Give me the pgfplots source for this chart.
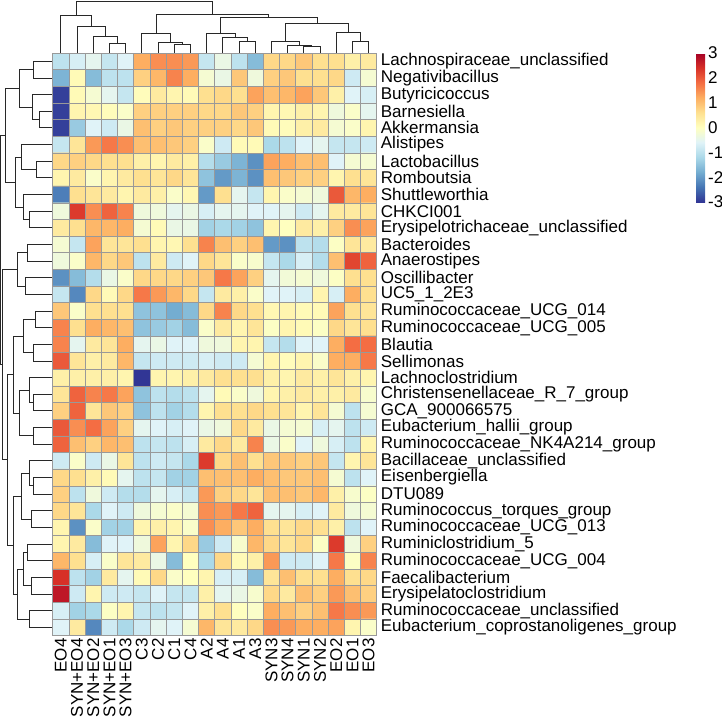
\documentclass[border=0pt]{standalone}
\usepackage{pgfplots}
\pgfplotsset{compat=1.18}
\usepackage{fontspec}
\setmainfont{Liberation Sans}
\definecolor{gridgray}{RGB}{153,153,153}
\definecolor{dendro}{RGB}{40,40,40}
\newcommand{\lbl}{\fontsize{17pt}{20pt}\selectfont}
\newcommand{\us}{\textunderscore}
\begin{document}
\lbl
\begin{tikzpicture}[x=1pt,y=1pt]
\useasboundingbox (0,0) rectangle (722,-721);
% ---------------- heatmap ----------------
\begin{axis}[
  at={(52.7pt,-635.6pt)}, anchor=south west,
  scale only axis, width=324pt, height=582.6pt,
  xmin=-0.5, xmax=19.5, ymin=-0.5, ymax=34.5, y dir=reverse,
  colormap={rdylbu}{rgb255=(49,54,149) rgb255=(69,117,180) rgb255=(116,173,209) rgb255=(171,217,233) rgb255=(224,243,248) rgb255=(255,255,191) rgb255=(254,224,144) rgb255=(253,174,97) rgb255=(244,109,67) rgb255=(215,48,39) rgb255=(165,0,38)},
  point meta min=-3, point meta max=3,
  xtick={0,...,19}, ytick={0,...,34},
  xticklabels={EO4,SYN+EO4,SYN+EO2,SYN+EO1,SYN+EO3,C3,C2,C1,C4,A2,A4,A1,A3,SYN3,SYN4,SYN1,SYN2,EO2,EO1,EO3},
  yticklabels={Lachnospiraceae\us unclassified,Negativibacillus,Butyricicoccus,Barnesiella,Akkermansia,Alistipes,Lactobacillus,Romboutsia,Shuttleworthia,CHKCI001,Erysipelotrichaceae\us unclassified,Bacteroides,Anaerostipes,Oscillibacter,UC5\us 1\us 2E3,Ruminococcaceae\us UCG\us 014,Ruminococcaceae\us UCG\us 005,Blautia,Sellimonas,Lachnoclostridium,Christensenellaceae\us R\us 7\us group,GCA\us 900066575,Eubacterium\us hallii\us group,Ruminococcaceae\us NK4A214\us group,Bacillaceae\us unclassified,Eisenbergiella,DTU089,Ruminococcus\us torques\us group,Ruminococcaceae\us UCG\us 013,Ruminiclostridium\us 5,Ruminococcaceae\us UCG\us 004,Faecalibacterium,Erysipelatoclostridium,Ruminococcaceae\us unclassified,Eubacterium\us coprostanoligenes\us group},
  yticklabel pos=right,
  major tick length=0pt, minor tick length=0pt,
  tick label style={font=\lbl},
  xticklabel style={rotate=90, anchor=east, inner xsep=2.5pt, inner ysep=0pt},
  yticklabel style={anchor=west, inner xsep=4pt, inner ysep=0pt},
  minor xtick={0.5,1.5,...,18.5}, minor ytick={0.5,1.5,...,33.5},
  xminorgrids, yminorgrids, minor grid style={gridgray, line width=0.6pt},
  axis line style={gridgray, line width=0.6pt},
  axis on top,
  colorbar,
  colorbar style={at={(1.9855,1)}, anchor=north west, scale only axis, width=9pt, height=149pt,
    ytick={-3,-2,-1,0,1,2,3}, yticklabels={{-3},{-2},{-1},{0},{1},{2},{3}},
    yticklabel style={font=\lbl, inner xsep=3pt},
    axis line style={draw=none}, major tick length=0pt},
]
\addplot[matrix plot*, mesh/cols=20, point meta=explicit]
 table[header=false, row sep=\\, x index=0, y index=1, meta index=2] {
0 0 -1.0\\ 1 0 -0.7\\ 2 0 -0.5\\ 3 0 -0.9\\ 4 0 -0.6\\ 5 0 1.2\\ 6 0 1.5\\ 7 0 1.5\\ 8 0 1.4\\ 9 0 -0.9\\ 10 0 -0.4\\ 11 0 -1.0\\ 12 0 -1.6\\ 13 0 0.7\\ 14 0 0.7\\ 15 0 0.9\\ 16 0 0.6\\ 17 0 0.6\\ 18 0 0.3\\ 19 0 0.4\\
0 1 -1.7\\ 1 1 0.1\\ 2 1 -1.6\\ 3 1 -1.0\\ 4 1 -1.0\\ 5 1 0.8\\ 6 1 1.1\\ 7 1 1.6\\ 8 1 1.2\\ 9 1 -0.2\\ 10 1 -0.4\\ 11 1 0.9\\ 12 1 -0.3\\ 13 1 0.8\\ 14 1 0.9\\ 15 1 0.6\\ 16 1 0.6\\ 17 1 0.7\\ 18 1 -0.8\\ 19 1 -0.2\\
0 2 -2.9\\ 1 2 0.1\\ 2 2 -0.2\\ 3 2 -0.5\\ 4 2 -0.9\\ 5 2 0.05\\ 6 2 0.4\\ 7 2 0.2\\ 8 2 0.1\\ 9 2 0.6\\ 10 2 0.7\\ 11 2 0.6\\ 12 2 1.3\\ 13 2 1.0\\ 14 2 1.1\\ 15 2 1.3\\ 16 2 0.9\\ 17 2 0.3\\ 18 2 -0.6\\ 19 2 -0.7\\
0 3 -2.9\\ 1 3 0.2\\ 2 3 0.15\\ 3 3 0.05\\ 4 3 -0.1\\ 5 3 0.8\\ 6 3 0.8\\ 7 3 0.8\\ 8 3 0.8\\ 9 3 0.7\\ 10 3 0.7\\ 11 3 0.9\\ 12 3 0.8\\ 13 3 0.2\\ 14 3 0.15\\ 15 3 0.3\\ 16 3 0.2\\ 17 3 -0.3\\ 18 3 -0.1\\ 19 3 -0.5\\
0 4 -2.9\\ 1 4 -1.4\\ 2 4 -0.6\\ 3 4 -0.8\\ 4 4 -0.4\\ 5 4 1.0\\ 6 4 0.8\\ 7 4 0.9\\ 8 4 0.8\\ 9 4 0.8\\ 10 4 0.8\\ 11 4 0.7\\ 12 4 0.9\\ 13 4 0.1\\ 14 4 0.05\\ 15 4 0.3\\ 16 4 0.4\\ 17 4 -0.2\\ 18 4 -0.1\\ 19 4 0.2\\
0 5 -0.9\\ 1 5 0.5\\ 2 5 1.4\\ 3 5 1.7\\ 4 5 1.5\\ 5 5 1.0\\ 6 5 1.0\\ 7 5 0.9\\ 8 5 0.8\\ 9 5 -0.1\\ 10 5 -0.8\\ 11 5 0.1\\ 12 5 0.1\\ 13 5 -1.2\\ 14 5 -1.0\\ 15 5 -0.6\\ 16 5 -0.5\\ 17 5 -0.9\\ 18 5 -0.9\\ 19 5 -0.8\\
0 6 0.7\\ 1 6 0.8\\ 2 6 0.7\\ 3 6 0.6\\ 4 6 0.6\\ 5 6 0.3\\ 6 6 0.2\\ 7 6 0.4\\ 8 6 0.3\\ 9 6 -1.1\\ 10 6 -1.4\\ 11 6 -1.7\\ 12 6 -2.1\\ 13 6 1.3\\ 14 6 1.2\\ 15 6 1.0\\ 16 6 1.0\\ 17 6 -0.6\\ 18 6 -0.2\\ 19 6 -0.2\\
0 7 0.2\\ 1 7 0.4\\ 2 7 -0.1\\ 3 7 0.2\\ 4 7 0.4\\ 5 7 0.6\\ 6 7 0.5\\ 7 7 0.7\\ 8 7 0.5\\ 9 7 -1.5\\ 10 7 -2.0\\ 11 7 -1.7\\ 12 7 -2.1\\ 13 7 1.0\\ 14 7 0.9\\ 15 7 0.8\\ 16 7 0.8\\ 17 7 0.2\\ 18 7 0.6\\ 19 7 0.5\\
0 8 -2.3\\ 1 8 0.6\\ 2 8 0.5\\ 3 8 0.4\\ 4 8 0.2\\ 5 8 0.4\\ 6 8 0.3\\ 7 8 -0.1\\ 8 8 0.15\\ 9 8 -2.0\\ 10 8 0.6\\ 11 8 -0.5\\ 12 8 -0.9\\ 13 8 0.2\\ 14 8 -0.1\\ 15 8 -0.2\\ 16 8 -0.3\\ 17 8 2.0\\ 18 8 1.1\\ 19 8 1.2\\
0 9 -0.3\\ 1 9 2.3\\ 2 9 1.5\\ 3 9 1.9\\ 4 9 1.6\\ 5 9 -0.3\\ 6 9 -0.3\\ 7 9 -0.5\\ 8 9 -0.4\\ 9 9 -0.7\\ 10 9 -0.5\\ 11 9 -0.5\\ 12 9 -0.6\\ 13 9 -0.6\\ 14 9 -0.5\\ 15 9 -0.8\\ 16 9 -0.5\\ 17 9 0.4\\ 18 9 0.4\\ 19 9 0.5\\
0 10 0.4\\ 1 10 0.6\\ 2 10 1.1\\ 3 10 1.1\\ 4 10 1.2\\ 5 10 -0.2\\ 6 10 0.1\\ 7 10 -0.4\\ 8 10 -0.4\\ 9 10 -1.3\\ 10 10 -1.2\\ 11 10 -1.3\\ 12 10 -1.5\\ 13 10 0.2\\ 14 10 0.0\\ 15 10 0.4\\ 16 10 0.3\\ 17 10 0.8\\ 18 10 1.5\\ 19 10 1.3\\
0 11 -0.2\\ 1 11 -0.9\\ 2 11 1.3\\ 3 11 0.5\\ 4 11 0.5\\ 5 11 0.6\\ 6 11 0.2\\ 7 11 0.15\\ 8 11 0.6\\ 9 11 1.6\\ 10 11 1.0\\ 11 11 0.8\\ 12 11 1.0\\ 13 11 -2.0\\ 14 11 -2.1\\ 15 11 -1.0\\ 16 11 -1.1\\ 17 11 -0.05\\ 18 11 0.5\\ 19 11 0.4\\
0 12 -0.3\\ 1 12 -0.1\\ 2 12 1.1\\ 3 12 0.7\\ 4 12 0.9\\ 5 12 -1.0\\ 6 12 0.4\\ 7 12 -0.8\\ 8 12 -0.6\\ 9 12 0.7\\ 10 12 0.5\\ 11 12 -0.1\\ 12 12 -0.15\\ 13 12 -0.9\\ 14 12 -1.2\\ 15 12 -0.7\\ 16 12 -1.1\\ 17 12 1.0\\ 18 12 2.2\\ 19 12 1.9\\
0 13 -2.1\\ 1 13 -1.6\\ 2 13 -1.1\\ 3 13 -0.4\\ 4 13 -0.1\\ 5 13 0.7\\ 6 13 0.7\\ 7 13 0.7\\ 8 13 0.8\\ 9 13 0.9\\ 10 13 1.7\\ 11 13 1.3\\ 12 13 0.8\\ 13 13 -0.5\\ 14 13 -0.25\\ 15 13 -0.2\\ 16 13 -0.3\\ 17 13 -0.05\\ 18 13 0.6\\ 19 13 0.6\\
0 14 -0.9\\ 1 14 -2.2\\ 2 14 0.7\\ 3 14 0.1\\ 4 14 0.7\\ 5 14 1.7\\ 6 14 1.4\\ 7 14 1.1\\ 8 14 0.7\\ 9 14 -0.9\\ 10 14 0.4\\ 11 14 0.3\\ 12 14 -0.1\\ 13 14 -0.6\\ 14 14 -0.6\\ 15 14 -0.7\\ 16 14 0.2\\ 17 14 -0.7\\ 18 14 1.2\\ 19 14 0.6\\
0 15 0.9\\ 1 15 -0.1\\ 2 15 0.6\\ 3 15 0.6\\ 4 15 0.6\\ 5 15 -1.5\\ 6 15 -1.5\\ 7 15 -1.8\\ 8 15 -1.6\\ 9 15 0.7\\ 10 15 1.6\\ 11 15 0.7\\ 12 15 0.6\\ 13 15 0.15\\ 14 15 0.2\\ 15 15 0.1\\ 16 15 0.1\\ 17 15 1.3\\ 18 15 0.6\\ 19 15 0.5\\
0 16 1.6\\ 1 16 0.6\\ 2 16 1.2\\ 3 16 1.1\\ 4 16 1.0\\ 5 16 -1.5\\ 6 16 -1.4\\ 7 16 -1.3\\ 8 16 -1.6\\ 9 16 -0.1\\ 10 16 0.4\\ 11 16 0.2\\ 12 16 0.5\\ 13 16 -0.05\\ 14 16 0.2\\ 15 16 0.1\\ 16 16 -0.05\\ 17 16 0.7\\ 18 16 0.5\\ 19 16 0.6\\
0 17 1.6\\ 1 17 -0.5\\ 2 17 0.4\\ 3 17 0.5\\ 4 17 1.2\\ 5 17 -0.5\\ 6 17 -0.4\\ 7 17 -0.6\\ 8 17 -0.6\\ 9 17 -0.3\\ 10 17 -0.3\\ 11 17 0.2\\ 12 17 0.2\\ 13 17 -0.9\\ 14 17 -1.1\\ 15 17 -0.6\\ 16 17 -0.6\\ 17 17 1.2\\ 18 17 1.8\\ 19 17 1.8\\
0 18 2.0\\ 1 18 0.5\\ 2 18 0.3\\ 3 18 0.4\\ 4 18 1.1\\ 5 18 -0.9\\ 6 18 -0.8\\ 7 18 -0.8\\ 8 18 -0.8\\ 9 18 -0.7\\ 10 18 -0.8\\ 11 18 -0.8\\ 12 18 -0.2\\ 13 18 0.2\\ 14 18 0.05\\ 15 18 0.2\\ 16 18 -0.1\\ 17 18 1.2\\ 18 18 1.2\\ 19 18 1.7\\
0 19 0.3\\ 1 19 0.3\\ 2 19 0.3\\ 3 19 0.3\\ 4 19 0.2\\ 5 19 -3.0\\ 6 19 0.2\\ 7 19 0.2\\ 8 19 0.3\\ 9 19 0.4\\ 10 19 0.6\\ 11 19 0.6\\ 12 19 0.6\\ 13 19 0.3\\ 14 19 0.2\\ 15 19 0.4\\ 16 19 0.3\\ 17 19 0.5\\ 18 19 0.3\\ 19 19 0.2\\
0 20 0.5\\ 1 20 1.9\\ 2 20 1.6\\ 3 20 1.7\\ 4 20 1.3\\ 5 20 -1.5\\ 6 20 -1.0\\ 7 20 -1.1\\ 8 20 -1.0\\ 9 20 -0.5\\ 10 20 0.1\\ 11 20 -0.1\\ 12 20 -0.3\\ 13 20 0.2\\ 14 20 0.3\\ 15 20 0.4\\ 16 20 0.3\\ 17 20 0.3\\ 18 20 0.4\\ 19 20 -0.15\\
0 21 0.8\\ 1 21 1.9\\ 2 21 0.5\\ 3 21 0.9\\ 4 21 0.8\\ 5 21 -1.5\\ 6 21 -1.0\\ 7 21 -1.3\\ 8 21 -1.1\\ 9 21 0.2\\ 10 21 0.6\\ 11 21 0.6\\ 12 21 0.7\\ 13 21 0.6\\ 14 21 0.5\\ 15 21 0.2\\ 16 21 0.5\\ 17 21 -0.2\\ 18 21 -1.0\\ 19 21 -0.2\\
0 22 2.0\\ 1 22 1.5\\ 2 22 1.8\\ 3 22 1.3\\ 4 22 0.8\\ 5 22 -0.5\\ 6 22 -0.6\\ 7 22 -0.7\\ 8 22 -0.6\\ 9 22 -0.4\\ 10 22 -0.3\\ 11 22 0.7\\ 12 22 0.4\\ 13 22 -0.4\\ 14 22 -0.2\\ 15 22 -0.2\\ 16 22 -0.7\\ 17 22 -0.5\\ 18 22 -1.0\\ 19 22 -0.8\\
0 23 1.9\\ 1 23 1.0\\ 2 23 0.8\\ 3 23 1.1\\ 4 23 1.0\\ 5 23 -1.0\\ 6 23 -0.9\\ 7 23 -1.0\\ 8 23 -0.7\\ 9 23 0.4\\ 10 23 0.7\\ 11 23 0.4\\ 12 23 1.6\\ 13 23 -0.4\\ 14 23 -0.1\\ 15 23 -0.6\\ 16 23 -0.3\\ 17 23 -0.7\\ 18 23 -1.0\\ 19 23 0.2\\
0 24 -0.8\\ 1 24 -0.1\\ 2 24 -0.8\\ 3 24 -0.4\\ 4 24 0.5\\ 5 24 -1.0\\ 6 24 -0.8\\ 7 24 -0.9\\ 8 24 -1.2\\ 9 24 2.3\\ 10 24 0.7\\ 11 24 1.0\\ 12 24 0.6\\ 13 24 0.9\\ 14 24 0.9\\ 15 24 0.8\\ 16 24 0.9\\ 17 24 -0.9\\ 18 24 0.2\\ 19 24 0.5\\
0 25 0.7\\ 1 25 0.6\\ 2 25 0.3\\ 3 25 0.1\\ 4 25 -0.5\\ 5 25 -1.0\\ 6 25 -0.9\\ 7 25 -1.3\\ 8 25 -1.3\\ 9 25 1.0\\ 10 25 1.0\\ 11 25 1.0\\ 12 25 1.2\\ 13 25 1.0\\ 14 25 0.9\\ 15 25 0.9\\ 16 25 1.0\\ 17 25 -0.2\\ 18 25 -1.0\\ 19 25 -0.6\\
0 26 0.8\\ 1 26 -1.0\\ 2 26 -0.3\\ 3 26 -0.8\\ 4 26 -1.1\\ 5 26 -1.1\\ 6 26 -0.5\\ 7 26 -0.7\\ 8 26 -0.9\\ 9 26 1.4\\ 10 26 0.8\\ 11 26 0.7\\ 12 26 0.5\\ 13 26 1.0\\ 14 26 1.0\\ 15 26 0.9\\ 16 26 1.1\\ 17 26 0.3\\ 18 26 -0.15\\ 19 26 -0.05\\
0 27 0.7\\ 1 27 0.5\\ 2 27 -1.2\\ 3 27 -0.6\\ 4 27 -0.8\\ 5 27 -0.3\\ 6 27 -0.2\\ 7 27 -0.1\\ 8 27 -0.2\\ 9 27 1.5\\ 10 27 1.4\\ 11 27 1.7\\ 12 27 1.9\\ 13 27 -0.5\\ 14 27 -0.5\\ 15 27 -0.7\\ 16 27 -0.6\\ 17 27 0.4\\ 18 27 -0.3\\ 19 27 -0.2\\
0 28 0.2\\ 1 28 -2.1\\ 2 28 -0.1\\ 3 28 -1.3\\ 4 28 -1.3\\ 5 28 0.2\\ 6 28 0.3\\ 7 28 0.2\\ 8 28 -0.1\\ 9 28 1.5\\ 10 28 1.2\\ 11 28 0.9\\ 12 28 1.2\\ 13 28 0.6\\ 14 28 0.5\\ 15 28 0.7\\ 16 28 0.6\\ 17 28 0.3\\ 18 28 -1.0\\ 19 28 -0.6\\
0 29 0.2\\ 1 29 0.4\\ 2 29 -1.6\\ 3 29 -0.6\\ 4 29 -0.6\\ 5 29 -0.3\\ 6 29 1.3\\ 7 29 0.2\\ 8 29 0.7\\ 9 29 -1.4\\ 10 29 -0.8\\ 11 29 -0.15\\ 12 29 1.1\\ 13 29 0.7\\ 14 29 0.5\\ 15 29 0.7\\ 16 29 -0.05\\ 17 29 2.3\\ 18 29 -0.3\\ 19 29 0.8\\
0 30 1.1\\ 1 30 0.6\\ 2 30 -0.7\\ 3 30 -0.1\\ 4 30 0.5\\ 5 30 0.4\\ 6 30 -0.4\\ 7 30 -1.6\\ 8 30 0.0\\ 9 30 -1.2\\ 10 30 0.7\\ 11 30 0.1\\ 12 30 0.3\\ 13 30 1.4\\ 14 30 -0.8\\ 15 30 -0.8\\ 16 30 -0.6\\ 17 30 1.7\\ 18 30 -0.05\\ 19 30 1.6\\
0 31 2.4\\ 1 31 -1.0\\ 2 31 -1.3\\ 3 31 0.4\\ 4 31 -0.5\\ 5 31 0.1\\ 6 31 0.7\\ 7 31 -0.1\\ 8 31 0.0\\ 9 31 0.2\\ 10 31 -0.7\\ 11 31 -0.7\\ 12 31 -1.6\\ 13 31 0.5\\ 14 31 1.0\\ 15 31 0.6\\ 16 31 0.6\\ 17 31 1.2\\ 18 31 0.6\\ 19 31 0.7\\
0 32 2.7\\ 1 32 -0.8\\ 2 32 0.2\\ 3 32 -0.8\\ 4 32 -0.8\\ 5 32 -0.9\\ 6 32 -0.6\\ 7 32 -0.9\\ 8 32 -0.9\\ 9 32 0.3\\ 10 32 -0.5\\ 11 32 -0.4\\ 12 32 -0.15\\ 13 32 0.7\\ 14 32 0.4\\ 15 32 1.0\\ 16 32 0.8\\ 17 32 1.4\\ 18 32 1.0\\ 19 32 0.8\\
0 33 -0.7\\ 1 33 -1.3\\ 2 33 -1.2\\ 3 33 -0.05\\ 4 33 0.2\\ 5 33 -0.9\\ 6 33 -1.0\\ 7 33 -0.9\\ 8 33 -0.6\\ 9 33 0.3\\ 10 33 0.6\\ 11 33 0.0\\ 12 33 -0.1\\ 13 33 1.2\\ 14 33 1.0\\ 15 33 0.8\\ 16 33 1.0\\ 17 33 1.7\\ 18 33 1.5\\ 19 33 1.4\\
0 34 -0.6\\ 1 34 0.4\\ 2 34 -2.2\\ 3 34 -0.8\\ 4 34 -1.2\\ 5 34 -0.8\\ 6 34 -0.5\\ 7 34 -0.6\\ 8 34 -0.2\\ 9 34 1.1\\ 10 34 0.5\\ 11 34 0.4\\ 12 34 0.7\\ 13 34 1.5\\ 14 34 1.4\\ 15 34 1.2\\ 16 34 1.2\\ 17 34 1.3\\ 18 34 0.2\\ 19 34 -0.1\\
};
\end{axis}
% ---------------- column dendrogram ----------------
\begin{axis}[at={(52.7pt,-52.7pt)}, anchor=south west, scale only axis,
  width=324pt, height=51.7pt, xmin=-0.5, xmax=19.5, ymin=0, ymax=51.7,
  hide axis, clip=false]
\addplot[dendro, line width=0.9pt, unbounded coords=jump, mark=none] coordinates {
(3,0)(3,9.4)(4,9.4)(4,0) (nan,nan)
(2,0)(2,16.7)(3.5,16.7)(3.5,9.4) (nan,nan)
(1,0)(1,26)(2.75,26)(2.75,16.7) (nan,nan)
(0,0)(0,37.4)(1.875,37.4)(1.875,26) (nan,nan)
(7,0)(7,8.4)(8,8.4)(8,0) (nan,nan)
(6,0)(6,10.7)(7.5,10.7)(7.5,8.4) (nan,nan)
(5,0)(5,19)(6.75,19)(6.75,10.7) (nan,nan)
(11,0)(11,11)(12,11)(12,0) (nan,nan)
(10,0)(10,15.7)(11.5,15.7)(11.5,11) (nan,nan)
(9,0)(9,19.5)(10.75,19.5)(10.75,15.7) (nan,nan)
(15,0)(15,6)(16,6)(16,0) (nan,nan)
(14,0)(14,7)(15.5,7)(15.5,6) (nan,nan)
(13,0)(13,11)(14.75,11)(14.75,7) (nan,nan)
(18,0)(18,11)(19,11)(19,0) (nan,nan)
(17,0)(17,20.7)(18.5,20.7)(18.5,11) (nan,nan)
(13.875,11)(13.875,29)(17.75,29)(17.75,20.7) (nan,nan)
(9.875,19.5)(9.875,35.4)(15.8125,35.4)(15.8125,29) (nan,nan)
(5.875,19)(5.875,38.7)(12.84375,38.7)(12.84375,35.4) (nan,nan)
(0.9375,37.4)(0.9375,51.7)(9.359375,51.7)(9.359375,38.7)
};
\end{axis}
% ---------------- row dendrogram ----------------
\begin{axis}[at={(0.7pt,-635.6pt)}, anchor=south west, scale only axis,
  width=51pt, height=582.6pt, xmin=0, xmax=51, x dir=reverse,
  ymin=-0.5, ymax=34.5, y dir=reverse, hide axis, clip=false]
\addplot[dendro, line width=0.9pt, unbounded coords=jump, mark=none] coordinates {
(0,0)(18.4,0)(18.4,1)(0,1) (nan,nan)
(0,3)(12,3)(12,4)(0,4) (nan,nan)
(0,2)(19.4,2)(19.4,3.5)(12,3.5) (nan,nan)
(18.4,0.5)(32,0.5)(32,2.75)(19.4,2.75) (nan,nan)
(0,6)(15.4,6)(15.4,7)(0,7) (nan,nan)
(0,5)(30,5)(30,6.5)(15.4,6.5) (nan,nan)
(0,9)(22,9)(22,10)(0,10) (nan,nan)
(0,8)(28.7,8)(28.7,9.5)(22,9.5) (nan,nan)
(30,5.75)(36,5.75)(36,8.75)(28.7,8.75) (nan,nan)
(32,1.625)(46,1.625)(46,7.25)(36,7.25) (nan,nan)
(0,11)(24.4,11)(24.4,12)(0,12) (nan,nan)
(0,13)(26,13)(26,14)(0,14) (nan,nan)
(24.4,11.5)(34.4,11.5)(34.4,13.5)(26,13.5) (nan,nan)
(0,15)(16,15)(16,16)(0,16) (nan,nan)
(0,17)(18,17)(18,18)(0,18) (nan,nan)
(16,15.5)(28,15.5)(28,17.5)(18,17.5) (nan,nan)
(0,20)(18,20)(18,21)(0,21) (nan,nan)
(0,19)(22,19)(22,20.5)(18,20.5) (nan,nan)
(0,22)(18,22)(18,23)(0,23) (nan,nan)
(22,19.75)(32,19.75)(32,22.5)(18,22.5) (nan,nan)
(28,16.5)(38,16.5)(38,21.125)(32,21.125) (nan,nan)
(0,25)(18,25)(18,26)(0,26) (nan,nan)
(0,24)(22,24)(22,25.5)(18,25.5) (nan,nan)
(0,27)(20,27)(20,28)(0,28) (nan,nan)
(22,24.75)(30,24.75)(30,27.5)(20,27.5) (nan,nan)
(0,29)(24,29)(24,30)(0,30) (nan,nan)
(0,31)(20,31)(20,32)(0,32) (nan,nan)
(24,29.5)(28,29.5)(28,31.5)(20,31.5) (nan,nan)
(0,33)(22,33)(22,34)(0,34) (nan,nan)
(28,30.5)(34,30.5)(34,33.5)(22,33.5) (nan,nan)
(30,26.125)(38,26.125)(38,32)(34,32) (nan,nan)
(38,18.8125)(44,18.8125)(44,29.0625)(38,29.0625) (nan,nan)
(34.4,12.5)(49.4,12.5)(49.4,23.9375)(44,23.9375) (nan,nan)
(46,4.4375)(51,4.4375)(51,18.21875)(49.4,18.21875)
};
\end{axis}
\end{tikzpicture}
\end{document}
